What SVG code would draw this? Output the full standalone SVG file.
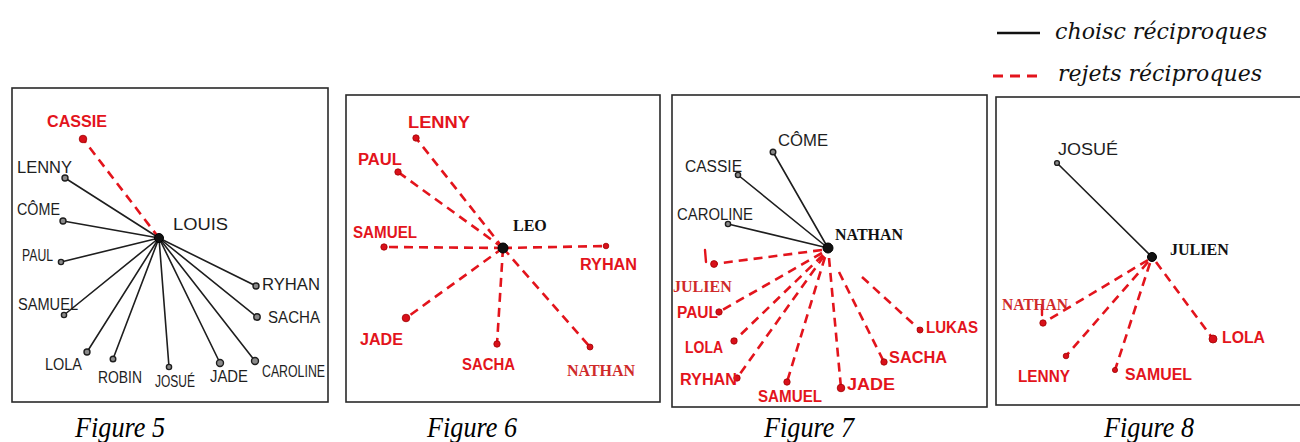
<svg xmlns="http://www.w3.org/2000/svg" width="1300" height="442" viewBox="0 0 1300 442">
<style>
.bg{fill:#fff}
.pane{fill:#fff;stroke:#2a2a2a;stroke-width:1.6}
.ch{stroke:#1e1e1e;stroke-width:1.6;fill:none;stroke-linecap:round}
.rj{stroke:#e3141c;stroke-width:2.6;fill:none;stroke-dasharray:9 6}
.tick{stroke:#e3141c;stroke-width:2.4;fill:none;stroke-linecap:round}
.bd{fill:#8a8a8a;stroke:#1e1e1e;stroke-width:1.4}
.rd{fill:#d8101a;stroke:#a00000;stroke-width:0.8}
.hub{fill:#111;stroke:#000;stroke-width:1}
.hw{font-family:"Liberation Sans",Arial,sans-serif;font-size:16px;fill:#1e1e1e}
.hwr{font-family:"Liberation Sans",Arial,sans-serif;font-size:16px;fill:#e3141c;font-weight:bold}
.sb{font-family:"Liberation Serif","Times New Roman",serif;font-weight:bold;font-size:16px;fill:#111}
.sbr{font-family:"Liberation Serif","Times New Roman",serif;font-weight:bold;font-size:16px;fill:#cf2a2a}
.cap{font-family:"Liberation Serif","Times New Roman",serif;font-style:italic;font-size:29px;fill:#000}
.leg{font-family:"DejaVu Serif",serif;font-style:italic;font-size:23px;fill:#111}
</style>
<rect class="bg" x="0" y="0" width="1300" height="442"/>

<!-- panels -->
<g id="panels">
<rect class="pane" x="12" y="88" width="316" height="314"/>
<rect class="pane" x="346" y="95" width="314" height="307"/>
<rect class="pane" x="672" y="95" width="315" height="312"/>
<rect class="pane" x="996" y="97" width="320" height="308"/>
</g>

<!-- legend -->
<g id="legend">
<line x1="997" y1="33" x2="1040" y2="33" stroke="#111" stroke-width="2.5"/>
<text class="leg" x="1055" y="39" textLength="212" lengthAdjust="spacingAndGlyphs">choisc réciproques</text>
<line x1="993" y1="76" x2="1043" y2="76" stroke="#e3141c" stroke-width="3" stroke-dasharray="10 7"/>
<text class="leg" x="1058" y="81" textLength="204" lengthAdjust="spacingAndGlyphs">rejets réciproques</text>
</g>

<!-- connectors -->
<g id="connectors">
<!-- Figure 5 -->
<line class="rj" x1="159" y1="238" x2="83" y2="139"/>
<line class="ch" x1="159" y1="238" x2="65" y2="178"/>
<line class="ch" x1="159" y1="238" x2="63" y2="221"/>
<line class="ch" x1="159" y1="238" x2="61" y2="262"/>
<line class="ch" x1="159" y1="238" x2="64" y2="315"/>
<line class="ch" x1="159" y1="238" x2="87" y2="352"/>
<line class="ch" x1="159" y1="238" x2="113" y2="359"/>
<line class="ch" x1="159" y1="238" x2="169" y2="367"/>
<line class="ch" x1="159" y1="238" x2="220" y2="363"/>
<line class="ch" x1="159" y1="238" x2="255" y2="361"/>
<line class="ch" x1="159" y1="238" x2="257" y2="317"/>
<line class="ch" x1="159" y1="238" x2="256" y2="286"/>
<!-- Figure 6 -->
<line class="rj" x1="503" y1="248" x2="416" y2="138"/>
<line class="rj" x1="503" y1="248" x2="398" y2="172"/>
<line class="rj" x1="503" y1="248" x2="384" y2="247"/>
<line class="rj" x1="503" y1="248" x2="606" y2="246"/>
<line class="rj" x1="503" y1="248" x2="406" y2="318"/>
<line class="rj" x1="503" y1="248" x2="497" y2="344"/>
<line class="rj" x1="503" y1="248" x2="590" y2="347"/>
<!-- Figure 7 -->
<line class="ch" x1="828" y1="248" x2="773" y2="152"/>
<line class="ch" x1="828" y1="248" x2="738" y2="175"/>
<line class="ch" x1="828" y1="248" x2="728" y2="224"/>
<line class="rj" x1="822" y1="250" x2="714" y2="264"/>
<line class="rj" x1="822" y1="253" x2="719" y2="312"/>
<line class="rj" x1="823" y1="255" x2="734" y2="341"/>
<line class="rj" x1="824" y1="256" x2="737" y2="378"/>
<line class="rj" x1="825" y1="257" x2="787" y2="382"/>
<line class="rj" x1="829" y1="258" x2="841" y2="388"/>
<line class="rj" x1="839" y1="272" x2="884" y2="362"/>
<line class="rj" x1="862" y1="277" x2="920" y2="330"/>
<line class="tick" x1="705" y1="250" x2="706" y2="262"/>
<!-- Figure 8 -->
<line class="ch" x1="1152" y1="257" x2="1057" y2="163"/>
<line class="rj" x1="1148" y1="260" x2="1043" y2="323"/>
<line class="rj" x1="1148" y1="262" x2="1066" y2="356"/>
<line class="rj" x1="1150" y1="263" x2="1115" y2="370"/>
<line class="rj" x1="1156" y1="262" x2="1213" y2="339"/>
<line class="tick" x1="1042" y1="306" x2="1042" y2="315"/>
</g>

<!-- Figure 5 nodes -->
<g id="f5-louis"><circle class="hub" cx="159" cy="238" r="4.5"/><text class="hw" x="173" y="230" font-size="18" textLength="55" lengthAdjust="spacingAndGlyphs">LOUIS</text></g>
<g id="f5-cassie"><circle class="rd" cx="83" cy="139" r="3.8"/><text class="hwr" x="47" y="127" textLength="60" lengthAdjust="spacingAndGlyphs">CASSIE</text></g>
<g id="f5-lenny"><circle class="bd" cx="65" cy="178" r="3"/><text class="hw" x="17" y="173" textLength="55" lengthAdjust="spacingAndGlyphs">LENNY</text></g>
<g id="f5-come"><circle class="bd" cx="63" cy="221" r="3"/><text class="hw" x="17" y="215" textLength="43" lengthAdjust="spacingAndGlyphs">CÔME</text></g>
<g id="f5-paul"><circle class="bd" cx="61" cy="262" r="2.6"/><text class="hw" x="22" y="261" textLength="31" lengthAdjust="spacingAndGlyphs">PAUL</text></g>
<g id="f5-samuel"><circle class="bd" cx="64" cy="315" r="2.6"/><text class="hw" x="18" y="310" textLength="60" lengthAdjust="spacingAndGlyphs">SAMUEL</text></g>
<g id="f5-lola"><circle class="bd" cx="87" cy="352" r="3"/><text class="hw" x="45" y="370" textLength="37" lengthAdjust="spacingAndGlyphs">LOLA</text></g>
<g id="f5-robin"><circle class="bd" cx="113" cy="359" r="2.8"/><text class="hw" x="98" y="383" textLength="44" lengthAdjust="spacingAndGlyphs">ROBIN</text></g>
<g id="f5-josue"><circle class="bd" cx="169" cy="367" r="2.6"/><text class="hw" x="155" y="387" textLength="40" lengthAdjust="spacingAndGlyphs">JOSUÉ</text></g>
<g id="f5-jade"><circle class="bd" cx="220" cy="363" r="3.5"/><text class="hw" x="210" y="382" textLength="38" lengthAdjust="spacingAndGlyphs">JADE</text></g>
<g id="f5-caroline"><circle class="bd" cx="255" cy="361" r="3.5"/><text class="hw" x="262" y="377" textLength="63" lengthAdjust="spacingAndGlyphs">CAROLINE</text></g>
<g id="f5-sacha"><circle class="bd" cx="257" cy="317" r="3.2"/><text class="hw" x="268" y="323" textLength="52" lengthAdjust="spacingAndGlyphs">SACHA</text></g>
<g id="f5-ryhan"><circle class="bd" cx="256" cy="286" r="3"/><text class="hw" x="262" y="290" textLength="58" lengthAdjust="spacingAndGlyphs">RYHAN</text></g>

<!-- Figure 6 nodes -->
<g id="f6-leo"><circle class="hub" cx="503" cy="248" r="5"/><text class="sb" x="513" y="231">LEO</text></g>
<g id="f6-lenny"><circle class="rd" cx="416" cy="138" r="3.2"/><text class="hwr" x="408" y="128" textLength="62" lengthAdjust="spacingAndGlyphs">LENNY</text></g>
<g id="f6-paul"><circle class="rd" cx="398" cy="172" r="3.2"/><text class="hwr" x="358" y="165" textLength="44" lengthAdjust="spacingAndGlyphs">PAUL</text></g>
<g id="f6-samuel"><circle class="rd" cx="384" cy="247" r="3.2"/><text class="hwr" x="353" y="238" textLength="64" lengthAdjust="spacingAndGlyphs">SAMUEL</text></g>
<g id="f6-ryhan"><circle class="rd" cx="606" cy="246" r="2.8"/><text class="hwr" x="580" y="270" textLength="57" lengthAdjust="spacingAndGlyphs">RYHAN</text></g>
<g id="f6-jade"><circle class="rd" cx="406" cy="318" r="3.8"/><text class="hwr" x="360" y="345" textLength="43" lengthAdjust="spacingAndGlyphs">JADE</text></g>
<g id="f6-sacha"><circle class="rd" cx="497" cy="344" r="3.2"/><text class="hwr" x="462" y="370" textLength="53" lengthAdjust="spacingAndGlyphs">SACHA</text></g>
<g id="f6-nathan"><circle class="rd" cx="590" cy="347" r="3"/><text class="sbr" x="567" y="376">NATHAN</text></g>

<!-- Figure 7 nodes -->
<g id="f7-nathan"><circle class="hub" cx="828" cy="248" r="5"/><text class="sb" x="835" y="240">NATHAN</text></g>
<g id="f7-come"><circle class="bd" cx="773" cy="152" r="2.8"/><text class="hw" x="778" y="146" textLength="50" lengthAdjust="spacingAndGlyphs">CÔME</text></g>
<g id="f7-cassie"><circle class="bd" cx="738" cy="175" r="2.6"/><text class="hw" x="685" y="172" textLength="57" lengthAdjust="spacingAndGlyphs">CASSIE</text></g>
<g id="f7-caroline"><circle class="bd" cx="728" cy="224" r="2.6"/><text class="hw" x="677" y="220" textLength="76" lengthAdjust="spacingAndGlyphs">CAROLINE</text></g>
<g id="f7-julien"><circle class="rd" cx="714" cy="264" r="3.4"/><text class="sbr" x="673" y="292">JULIEN</text></g>
<g id="f7-paul"><circle class="rd" cx="719" cy="312" r="3.2"/><text class="hwr" x="677" y="318" textLength="41" lengthAdjust="spacingAndGlyphs">PAUL</text></g>
<g id="f7-lola"><circle class="rd" cx="734" cy="341" r="3.2"/><text class="hwr" x="685" y="353" textLength="38" lengthAdjust="spacingAndGlyphs">LOLA</text></g>
<g id="f7-ryhan"><circle class="rd" cx="737" cy="378" r="3.2"/><text class="hwr" x="680" y="385" textLength="57" lengthAdjust="spacingAndGlyphs">RYHAN</text></g>
<g id="f7-samuel"><circle class="rd" cx="787" cy="382" r="3.2"/><text class="hwr" x="758" y="402" textLength="64" lengthAdjust="spacingAndGlyphs">SAMUEL</text></g>
<g id="f7-jade"><circle class="rd" cx="841" cy="388" r="3.8"/><text class="hwr" x="847" y="390" textLength="48" lengthAdjust="spacingAndGlyphs">JADE</text></g>
<g id="f7-sacha"><circle class="rd" cx="884" cy="362" r="3.2"/><text class="hwr" x="889" y="363" textLength="58" lengthAdjust="spacingAndGlyphs">SACHA</text></g>
<g id="f7-lukas"><circle class="rd" cx="920" cy="330" r="3"/><text class="hwr" x="926" y="333" textLength="52" lengthAdjust="spacingAndGlyphs">LUKAS</text></g>

<!-- Figure 8 nodes -->
<g id="f8-julien"><circle class="hub" cx="1152" cy="257" r="4.5"/><text class="sb" x="1170" y="255">JULIEN</text></g>
<g id="f8-josue"><circle class="bd" cx="1057" cy="163" r="2.4"/><text class="hw" x="1058" y="155" textLength="60" lengthAdjust="spacingAndGlyphs">JOSUÉ</text></g>
<g id="f8-nathan"><circle class="rd" cx="1043" cy="323" r="3.2"/><text class="sbr" x="1002" y="310" textLength="66" lengthAdjust="spacingAndGlyphs">NATHAN</text></g>
<g id="f8-lenny"><circle class="rd" cx="1066" cy="356" r="2.8"/><text class="hwr" x="1018" y="382" textLength="52" lengthAdjust="spacingAndGlyphs">LENNY</text></g>
<g id="f8-samuel"><circle class="rd" cx="1115" cy="370" r="2.6"/><text class="hwr" x="1125" y="380" textLength="67" lengthAdjust="spacingAndGlyphs">SAMUEL</text></g>
<g id="f8-lola"><circle class="rd" cx="1213" cy="339" r="4"/><text class="hwr" x="1222" y="343" textLength="43" lengthAdjust="spacingAndGlyphs">LOLA</text></g>

<!-- captions -->
<g id="captions">
<text class="cap" x="75" y="437" textLength="90" lengthAdjust="spacingAndGlyphs">Figure 5</text>
<text class="cap" x="427" y="437" textLength="90" lengthAdjust="spacingAndGlyphs">Figure 6</text>
<text class="cap" x="764" y="437" textLength="90" lengthAdjust="spacingAndGlyphs">Figure 7</text>
<text class="cap" x="1104" y="437" textLength="90" lengthAdjust="spacingAndGlyphs">Figure 8</text>
</g>
</svg>
